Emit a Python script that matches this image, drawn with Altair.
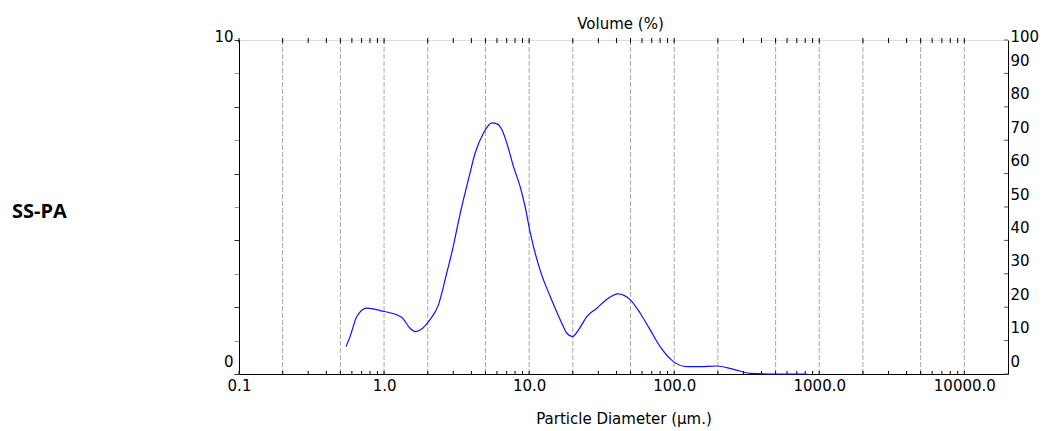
import altair as alt
import pandas as pd

# ---- data ----
diameter = [0.547, 0.583, 0.649, 0.76, 0.94, 1.32, 1.51, 1.65, 2.07, 2.37, 2.70, 3.01,
            3.25, 3.52, 3.81, 4.24, 4.84, 5.53, 6.0, 6.49, 7.02, 7.80, 8.67, 9.38, 10.2,
            11.9, 14.0, 16.4, 18.2, 19.9, 21.9, 25.0, 29.3, 34.4, 40.9, 49.8, 58.3, 68.3,
            80.0, 98.9, 122, 151, 196, 257, 334, 500, 822]
volume = [0.82, 1.12, 1.72, 1.97, 1.90, 1.70, 1.37, 1.27, 1.62, 2.07, 3.01, 3.85,
          4.55, 5.21, 5.81, 6.61, 7.21, 7.52, 7.49, 7.31, 6.91, 6.21, 5.61, 5.01, 4.21,
          3.11, 2.31, 1.62, 1.22, 1.12, 1.32, 1.72, 1.97, 2.24, 2.40, 2.22, 1.82, 1.32,
          0.82, 0.37, 0.22, 0.22, 0.24, 0.14, 0.02, 0.0, 0.0]

x_labels = [0.1, 1, 10, 100, 1000, 10000]
grid_values = [0.2, 0.5, 1, 2, 5, 10, 20, 50, 100, 200, 500, 1000, 2000, 5000, 10000]
minor_ticks = [k * d for d in [0.1, 1, 10, 100, 1000] for k in range(1, 10)] + [10000]
left_ticks = list(range(0, 11))
right_ticks = list(range(0, 101, 10))
sample_name = ["SS-PA"]
top_title = ["Volume (%)"]
x_title = "Particle Diameter (µm.)"

W, H = 769, 334
FONT = "DejaVu Sans"
xscale = alt.Scale(type="log", domain=[0.1, 20000], nice=False)

xaxis = alt.Axis(values=x_labels, labelExpr="format(datum.value, '.1f')",
                 ticks=False, grid=False, domainColor="black",
                 labelFont=FONT, labelFontSize=15, labelColor="black",
                 labelPadding=4, labelOverlap=False, labelFlush=False, labelBound=False,
                 titleFont=FONT, titleFontSize=15, titleFontWeight="normal",
                 titleColor="black", titlePadding=18)

curve_df = pd.DataFrame({"d": diameter, "v": volume})
grid_df = pd.DataFrame({"d": grid_values})
minor_df = pd.DataFrame({"d": minor_ticks})
right_df = pd.DataFrame({"p": right_ticks})

grid = alt.Chart(grid_df).mark_rule(color="#a8a8a8", strokeDash=[5, 2], strokeWidth=1).encode(
    x=alt.X("d:Q", scale=xscale, title=x_title, axis=xaxis)
)

top_ticks = alt.Chart(minor_df).mark_rule(color="black", strokeWidth=1).encode(
    x=alt.X("d:Q", scale=xscale, title=x_title, axis=xaxis),
    y=alt.value(-2), y2=alt.value(3)
)

bottom_ticks = alt.Chart(minor_df).mark_rule(color="black", strokeWidth=1).encode(
    x=alt.X("d:Q", scale=xscale, title=x_title, axis=xaxis),
    y=alt.value(H - 3), y2=alt.value(H)
)

line = alt.Chart(curve_df).mark_line(color="#1010ff", strokeWidth=1.2, interpolate="monotone").encode(
    x=alt.X("d:Q", scale=xscale, title=x_title, axis=xaxis),
    y=alt.Y("v:Q", scale=alt.Scale(domain=[0, 10], nice=False), title=None,
            axis=alt.Axis(values=left_ticks, orient="left",
                          labelExpr="(datum.value == 0 || datum.value == 10) ? datum.label : ''",
                          grid=False, tickSize=5, domainColor="black",
                          tickColor={"condition": {"test": "datum.value % 2 == 1", "value": "#9a9a9a"},
                                     "value": "#333333"},
                          labelOffset={"condition": {"test": "datum.value == 10", "value": -4},
                                       "value": -13},
                          labelFont=FONT, labelFontSize=15, labelColor="black",
                          labelPadding=1))
)

right_axis = alt.Chart(right_df).mark_rule(color="#555555", strokeWidth=1).encode(
    x=alt.value(W - 4), x2=alt.value(W),
    y=alt.Y("p:Q", scale=alt.Scale(domain=[0, 100], nice=False), title=None,
            axis=alt.Axis(values=right_ticks, orient="right", ticks=False, grid=False,
                          domainColor="black",
                          labelOffset={"condition": {"test": "datum.value == 100", "value": -4},
                                       "value": -13},
                          labelFont=FONT, labelFontSize=15, labelColor="black",
                          labelPadding=2))
)

label = alt.Chart(pd.DataFrame({"name": sample_name})).mark_text(
    font="Open Sans", fontSize=20, fontWeight="bold", color="black",
    align="left", baseline="alphabetic"
).encode(x=alt.value(-227), y=alt.value(178), text="name:N")

title = alt.Chart(pd.DataFrame({"t": top_title})).mark_text(
    font=FONT, fontSize=15, color="black", align="center", baseline="middle"
).encode(x=alt.value(W / 2 - 3), y=alt.value(-16), text="t:N")

chart = alt.layer(grid, top_ticks, bottom_ticks, line, right_axis, label, title).resolve_scale(
    y="independent"
).properties(
    width=W, height=H,
    autosize=alt.AutoSizeParams(type="none"),
    padding={"left": 239, "top": 40, "right": 54, "bottom": 57},
).configure_view(stroke="black", strokeWidth=1).configure(background="white")

chart.save("out.html", embed_options={"renderer": "svg", "actions": False})
